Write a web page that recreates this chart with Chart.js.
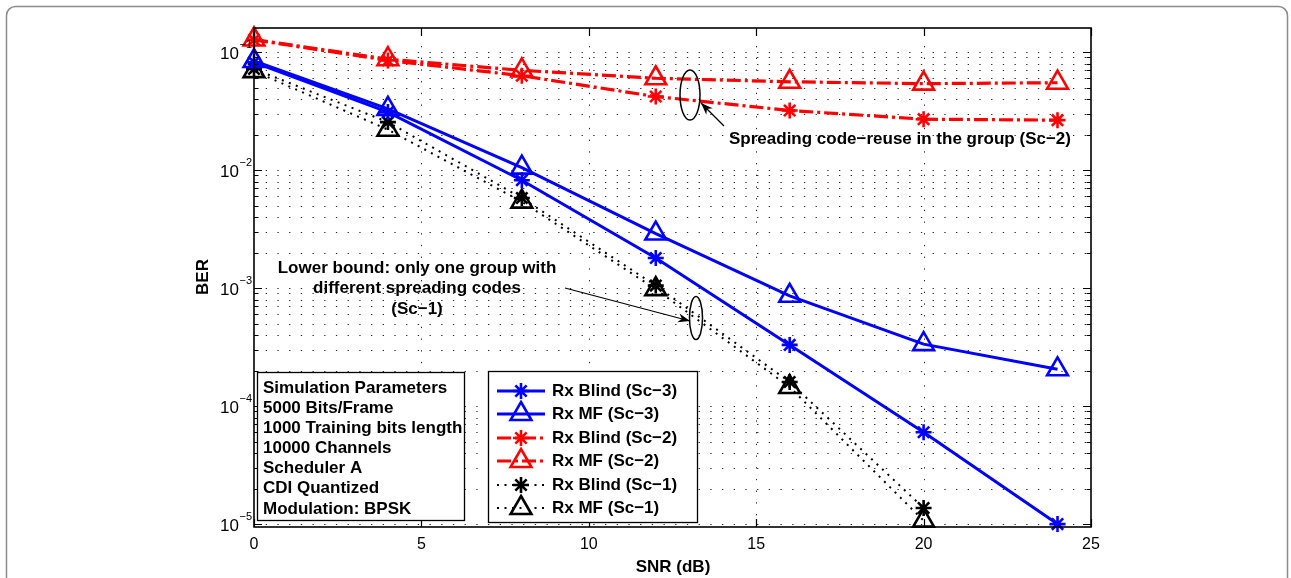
<!DOCTYPE html>
<html><head><meta charset="utf-8">
<script src="https://cdn.jsdelivr.net/npm/chart.js@4.4.1/dist/chart.umd.min.js"></script>
<style>html,body{margin:0;padding:0;background:#fff}#wrap{width:1291px;height:578px;position:relative}</style>
</head><body><div id="wrap"><canvas id="c" width="1291" height="578"></canvas></div>
<script>
// ---- data ----
const snr = [0, 4, 8, 12, 16, 20, 24];
const snrSc1 = [0, 4, 8, 12, 16, 20];
const blindSc3 = [0.082, 0.031, 0.0082, 0.0018, 3.3e-4, 6.0e-5, 1.0e-5];
const mfSc3 = [0.084, 0.033, 0.0105, 0.0029, 8.6e-4, 3.35e-4, 2.05e-4];
const blindSc2 = [0.127, 0.085, 0.063, 0.042, 0.032, 0.027, 0.0265];
const mfSc2 = [0.128, 0.087, 0.070, 0.060, 0.056, 0.054, 0.055];
const blindSc1 = [0.072, 0.0255, 0.0058, 0.00105, 1.6e-4, 1.37e-5];
const mfSc1 = [0.069, 0.022, 0.0054, 0.00098, 1.45e-4, 1.07e-5];
const xTicks = [0, 5, 10, 15, 20, 25];
const yTickExponents = [-5, -4, -3, -2, -1];
const seriesLabels = ['Rx Blind (Sc\u22123)', 'Rx MF (Sc\u22123)', 'Rx Blind (Sc\u22122)', 'Rx MF (Sc\u22122)', 'Rx Blind (Sc\u22121)', 'Rx MF (Sc\u22121)'];
const paramLines = ['Simulation Parameters', '5000 Bits/Frame', '1000 Training bits length', '10000 Channels', 'Scheduler A', 'CDI Quantized', 'Modulation: BPSK'];
const noteSc2 = 'Spreading code\u2212reuse in the group (Sc\u22122)';
const noteSc1 = ['Lower bound: only one group with', 'different spreading codes', '(Sc\u22121)'];
const xTitle = 'SNR (dB)';
const yTitle = 'BER';

const FONT = '"Liberation Sans", Arial, Helvetica, sans-serif';
const BLUE = '#0000ff', RED = '#ff0000', BLACK = '#000000';
const pts = (xs, ys) => xs.map((x, i) => ({x, y: ys[i]}));

function ds(label, xs, ys, color, dash, lw, style, r) {
  return {label, data: pts(xs, ys), borderColor: color, borderWidth: lw, borderDash: dash,
    pointStyle: style, pointRadius: r, pointBorderColor: color, pointBorderWidth: 2.6,
    pointBackgroundColor: 'rgba(0,0,0,0)', tension: 0, clip: false, fill: false};
}
const DASHDOT = [14, 4, 3, 4];
const DOT = [2, 5.5];
const datasets = [
  ds(seriesLabels[0], snr, blindSc3, BLUE, [], 3, 'star', 8),
  ds(seriesLabels[1], snr, mfSc3, BLUE, [], 3, 'triangle', 12),
  ds(seriesLabels[2], snr, blindSc2, RED, DASHDOT, 3.2, 'star', 8),
  ds(seriesLabels[3], snr, mfSc2, RED, DASHDOT, 3.2, 'triangle', 12),
  ds(seriesLabels[4], snrSc1, blindSc1, BLACK, DOT, 2, 'star', 8),
  ds(seriesLabels[5], snrSc1, mfSc1, BLACK, DOT, 2, 'triangle', 12)
];

function arrow(ctx, x1, y1, x2, y2) {
  ctx.beginPath(); ctx.moveTo(x1, y1); ctx.lineTo(x2, y2); ctx.stroke();
  const a = Math.atan2(y2 - y1, x2 - x1), L = 12, W = 4.5;
  ctx.beginPath();
  ctx.moveTo(x2, y2);
  ctx.lineTo(x2 - L * Math.cos(a) + W * Math.sin(a), y2 - L * Math.sin(a) - W * Math.cos(a));
  ctx.lineTo(x2 - L * 0.7 * Math.cos(a), y2 - L * 0.7 * Math.sin(a));
  ctx.lineTo(x2 - L * Math.cos(a) - W * Math.sin(a), y2 - L * Math.sin(a) + W * Math.cos(a));
  ctx.closePath(); ctx.fill();
}

const decor = {
  id: 'decor',
  beforeDraw(chart) {
    const ctx = chart.ctx;
    ctx.save();
    ctx.strokeStyle = '#8c8c8c'; ctx.lineWidth = 1.5;
    ctx.beginPath(); ctx.roundRect(6.5, 6.5, 1281, 640, 9); ctx.stroke();
    ctx.restore();
  },
  beforeDatasetsDraw(chart) {
    const ctx = chart.ctx, a = chart.chartArea, xs = chart.scales.x, ys = chart.scales.y;
    ctx.save();
    ctx.strokeStyle = '#262626'; ctx.lineWidth = 1; ctx.setLineDash([1.3, 10.4]);
    for (let e = yTickExponents[0]; e <= yTickExponents[yTickExponents.length - 1]; e++) {
      for (let m = 1; m <= 9; m++) {
        const v = m * Math.pow(10, e);
        if (v < ys.min || v > ys.max) continue;
        const y = Math.round(ys.getPixelForValue(v)) + 0.5;
        ctx.beginPath(); ctx.moveTo(a.left, y); ctx.lineTo(a.right, y); ctx.stroke();
      }
    }
    xTicks.forEach(t => {
      if (t === xTicks[0] || t === xTicks[xTicks.length - 1]) return;
      const x = Math.round(xs.getPixelForValue(t)) + 0.5;
      ctx.beginPath(); ctx.moveTo(x, a.bottom); ctx.lineTo(x, a.top); ctx.stroke();
    });
    ctx.restore();
  },
  afterDatasetsDraw(chart) {
    const ctx = chart.ctx, a = chart.chartArea, xs = chart.scales.x, ys = chart.scales.y;
    ctx.save();
    // frame
    ctx.setLineDash([]);
    ctx.strokeStyle = '#000'; ctx.lineWidth = 1.6;
    ctx.strokeRect(a.left, a.top, a.right - a.left, a.bottom - a.top);
    ctx.lineWidth = 1.2;
    // x ticks
    xTicks.forEach(t => {
      const x = Math.round(xs.getPixelForValue(t)) + 0.5;
      ctx.beginPath(); ctx.moveTo(x, a.bottom); ctx.lineTo(x, a.bottom - 8);
      ctx.moveTo(x, a.top); ctx.lineTo(x, a.top + 8); ctx.stroke();
    });
    // y ticks
    for (let e = yTickExponents[0]; e <= yTickExponents[yTickExponents.length - 1]; e++) {
      for (let m = 1; m <= 9; m++) {
        const v = m * Math.pow(10, e);
        if (v < ys.min || v > ys.max) continue;
        const y = Math.round(ys.getPixelForValue(v)) + 0.5;
        const L = m === 1 ? 8 : 4.5;
        ctx.beginPath(); ctx.moveTo(a.left, y); ctx.lineTo(a.left + L, y);
        ctx.moveTo(a.right, y); ctx.lineTo(a.right - L, y); ctx.stroke();
      }
    }
    // tick labels
    ctx.fillStyle = '#000';
    ctx.font = '16px ' + FONT; ctx.textAlign = 'center'; ctx.textBaseline = 'middle';
    xTicks.forEach(t => ctx.fillText(String(t), xs.getPixelForValue(t), a.bottom + 18));
    yTickExponents.forEach(e => {
      const y = ys.getPixelForValue(Math.pow(10, e));
      ctx.font = '17px ' + FONT; ctx.textAlign = 'right';
      ctx.fillText('10', 239, y + 2);
      ctx.font = '11px ' + FONT; ctx.textAlign = 'left';
      ctx.fillText('\u2212' + Math.abs(e), 239.5, y - 7);
    });
    // axis titles
    ctx.font = 'bold 17px ' + FONT; ctx.textAlign = 'center';
    ctx.fillText(xTitle, (a.left + a.right) / 2 + 0.5, 567);
    ctx.save(); ctx.translate(203, 277); ctx.rotate(-Math.PI / 2); ctx.fillText(yTitle, 0, 0); ctx.restore();

    // parameter box
    ctx.fillStyle = '#fff'; ctx.strokeStyle = '#000'; ctx.lineWidth = 1.3;
    ctx.fillRect(257.5, 372.5, 207, 148); ctx.strokeRect(257.5, 372.5, 207, 148);
    ctx.fillStyle = '#000'; ctx.font = 'bold 17px ' + FONT; ctx.textAlign = 'left';
    paramLines.forEach((s, i) => ctx.fillText(s, 263, 388 + i * 20.15));

    // legend box
    ctx.fillStyle = '#fff';
    ctx.fillRect(488.5, 371.5, 209, 151); ctx.strokeRect(488.5, 371.5, 209, 151);
    const rows = [391, 414, 438, 461, 485, 508];
    chart.data.datasets.forEach((d, i) => {
      const y = rows[i];
      ctx.save();
      ctx.strokeStyle = d.borderColor; ctx.lineWidth = d.borderWidth; ctx.setLineDash(d.borderDash);
      ctx.beginPath(); ctx.moveTo(497, y); ctx.lineTo(545, y); ctx.stroke();
      ctx.setLineDash([]); ctx.lineWidth = d.pointBorderWidth; ctx.fillStyle = 'rgba(0,0,0,0)';
      Chart.helpers.drawPoint(ctx, {pointStyle: d.pointStyle, radius: d.pointRadius, borderWidth: d.pointBorderWidth, rotation: 0}, 521, y);
      ctx.restore();
      ctx.fillStyle = '#000'; ctx.font = 'bold 17px ' + FONT; ctx.textAlign = 'left';
      ctx.fillText(d.label, 552, y);
    });

    // annotations
    ctx.fillStyle = '#000'; ctx.strokeStyle = '#000';
    ctx.font = 'bold 17px ' + FONT; ctx.textAlign = 'left';
    ctx.fillText(noteSc2, 729, 139);
    ctx.textAlign = 'center';
    noteSc1.forEach((s, i) => ctx.fillText(s, 417, 268 + i * 20.5));
    ctx.lineWidth = 1.5;
    ctx.beginPath(); ctx.ellipse(690, 95, 10, 25, 0, 0, Math.PI * 2); ctx.stroke();
    ctx.beginPath(); ctx.ellipse(696, 318, 6.5, 21.5, 0, 0, Math.PI * 2); ctx.stroke();
    ctx.lineWidth = 1.2;
    arrow(ctx, 724, 126, 701, 103);
    arrow(ctx, 565, 288, 690, 321);
    ctx.restore();
  }
};

new Chart(document.getElementById('c'), {
  type: 'line',
  data: {datasets},
  options: {
    responsive: false, animation: false, devicePixelRatio: 1,
    layout: {padding: {left: 254, right: 200, top: 28, bottom: 51}},
    plugins: {legend: {display: false}, tooltip: {enabled: false}},
    scales: {
      x: {type: 'linear', min: 0, max: 25, display: false},
      y: {type: 'logarithmic', min: 9.45e-6, max: 0.16, display: false}
    }
  },
  plugins: [decor]
});
</script>
</body></html>
